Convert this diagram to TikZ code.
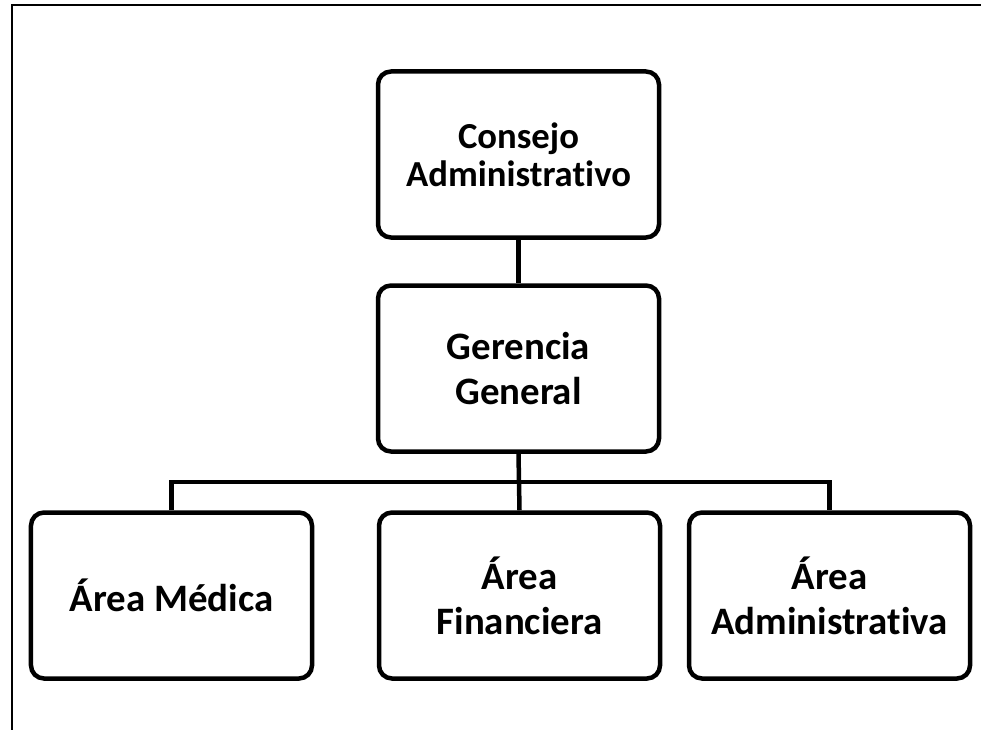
\documentclass[tikz,border=0pt]{standalone}
\usepackage{fontspec}
\setmainfont{Carlito}[Ligatures={NoCommon}]
\begin{document}
\begin{tikzpicture}[x=1bp,y=-1bp,
  box/.style={draw, line width=4.5bp, rounded corners=13bp, minimum width=281bp,
    minimum height=166bp, inner sep=0pt, align=center},
  topfont/.style={font=\bfseries\fontsize{36.8}{38.5}\selectfont},
  lowfont/.style={font=\bfseries\fontsize{39}{45}\selectfont},
  link/.style={line width=4.5bp, line join=miter}]
\useasboundingbox (0,0) rectangle (981,730);
% outer frame (top and left edges)
\draw[line width=2bp] (12,730) -- (12,5) -- (981,5);
% boxes
\node[box, topfont] (consejo) at (518.5,154.5) {Consejo\\Administrativo};
\node[box, lowfont] (gerencia) at (518.5,368.5) {Gerencia\\General};
\node[box, lowfont] (medica) at (171.5,595.5) {Área Médica};
\node[box, lowfont] (financiera) at (519.5,595.5) {Área\\Financiera};
\node[box, lowfont] (admin) at (829.5,595.5) {Área\\Administrativa};
\coordinate (bus) at (518.5,482);
% connectors
\draw[link] (consejo.south) -- (gerencia.north);
\draw[link] (gerencia.south) -- (financiera.north);
\draw[link] (medica.north) |- (bus) -| (admin.north);
\end{tikzpicture}
\end{document}
